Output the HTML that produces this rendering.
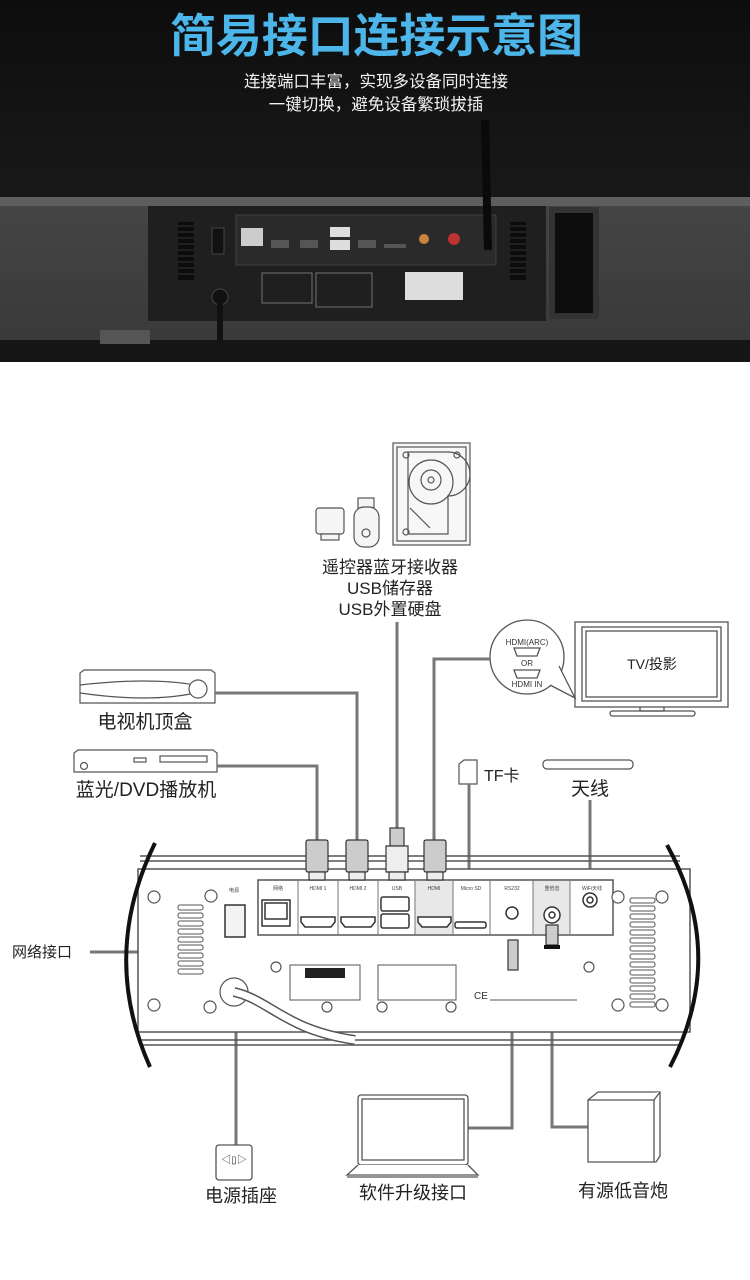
<!DOCTYPE html>
<html><head><meta charset="utf-8">
<style>
html,body{margin:0;padding:0;width:750px;height:1280px;overflow:hidden;background:#fff;}
svg{display:block;}
text{font-family:"Liberation Sans","Noto Sans CJK SC",sans-serif;}
</style></head><body>
<svg width="750" height="1280" viewBox="0 0 750 1280" xmlns="http://www.w3.org/2000/svg">
<defs>
<linearGradient id="bg" x1="0" y1="0" x2="0" y2="1">
<stop offset="0" stop-color="#0d0d0d"/><stop offset="0.5" stop-color="#181818"/><stop offset="1" stop-color="#101010"/>
</linearGradient>
<linearGradient id="bar" x1="0" y1="0" x2="0" y2="1">
<stop offset="0" stop-color="#4e4e4e"/><stop offset="0.1" stop-color="#444"/><stop offset="1" stop-color="#3a3a3a"/>
</linearGradient>
</defs>
<rect x="0" y="0" width="750" height="362" fill="url(#bg)"/>
<text x="170" y="52" font-size="46" font-weight="bold" fill="#4cb6ea" textLength="413" lengthAdjust="spacing">简易接口连接示意图</text>
<text x="376" y="87" text-anchor="middle" font-size="16.5" fill="#f2f2f2">连接端口丰富，实现多设备同时连接</text>
<text x="376" y="110" text-anchor="middle" font-size="16.5" fill="#f2f2f2">一键切换，避免设备繁琐拔插</text>
<rect x="0" y="197" width="750" height="143" fill="url(#bar)"/>
<rect x="0" y="197" width="750" height="9" fill="#5e5e5e"/>
<rect x="0" y="340" width="750" height="22" fill="#151515"/>
<rect x="100" y="330" width="50" height="14" fill="#555"/>
<rect x="148" y="206" width="398" height="115" fill="#1f1f1f"/>
<rect x="549" y="207" width="50" height="112" fill="#333"/>
<rect x="555" y="213" width="38" height="100" fill="#0d0d0d"/>
<rect x="236" y="215" width="260" height="50" fill="#2a2a2a" stroke="#555" stroke-width="0.6"/>
<g fill="#0c0c0c"><rect x="178" y="222" width="16" height="58"/><rect x="510" y="222" width="16" height="58"/></g>
<g stroke="#333" stroke-width="1"><line x1="178" y1="226" x2="194" y2="226"/><line x1="178" y1="232" x2="194" y2="232"/><line x1="178" y1="238" x2="194" y2="238"/><line x1="178" y1="244" x2="194" y2="244"/><line x1="178" y1="250" x2="194" y2="250"/><line x1="178" y1="256" x2="194" y2="256"/><line x1="178" y1="262" x2="194" y2="262"/><line x1="178" y1="268" x2="194" y2="268"/><line x1="178" y1="274" x2="194" y2="274"/>
<line x1="510" y1="226" x2="526" y2="226"/><line x1="510" y1="232" x2="526" y2="232"/><line x1="510" y1="238" x2="526" y2="238"/><line x1="510" y1="244" x2="526" y2="244"/><line x1="510" y1="250" x2="526" y2="250"/><line x1="510" y1="256" x2="526" y2="256"/><line x1="510" y1="262" x2="526" y2="262"/><line x1="510" y1="268" x2="526" y2="268"/><line x1="510" y1="274" x2="526" y2="274"/></g>
<rect x="212" y="228" width="12" height="26" fill="#111" stroke="#444"/>
<rect x="241" y="228" width="22" height="18" fill="#ccc"/>
<rect x="271" y="240" width="18" height="8" fill="#555"/><rect x="300" y="240" width="18" height="8" fill="#555"/>
<rect x="330" y="227" width="20" height="10" fill="#ddd"/><rect x="330" y="240" width="20" height="10" fill="#ddd"/>
<rect x="358" y="240" width="18" height="8" fill="#555"/>
<rect x="384" y="244" width="22" height="4" fill="#555"/>
<circle cx="424" cy="239" r="5" fill="#c8843a"/>
<circle cx="454" cy="239" r="6" fill="#b33"/>
<rect x="262" y="273" width="50" height="30" fill="none" stroke="#888" stroke-width="0.8"/>
<rect x="316" y="273" width="56" height="34" fill="none" stroke="#888" stroke-width="0.8"/>
<rect x="405" y="272" width="58" height="28" fill="#ddd"/>
<circle cx="220" cy="297" r="8" fill="#111" stroke="#444"/>
<rect x="217" y="297" width="6" height="45" fill="#111"/>
<polygon points="481,120 489,120 492,250 484,250" fill="#0a0a0a"/>
<g stroke="#555" fill="none" stroke-width="1.2">
<rect x="393" y="443" width="77" height="102" fill="#f7f7f7"/>
<rect x="397" y="447" width="69" height="94"/>
<path d="M408,452 h40 a22,22 0 0 1 0,44 v38 l-8,0 l-32,0 z"/>
<circle cx="431" cy="482" r="22"/><circle cx="431" cy="480" r="10"/><circle cx="431" cy="480" r="3"/>
<circle cx="406" cy="455" r="3"/><circle cx="457" cy="455" r="3"/><circle cx="406" cy="532" r="3"/>
<path d="M410,508 l20,20"/>
</g>
<g stroke="#555" fill="#f5f5f5" stroke-width="1.2">
<rect x="316" y="508" width="28" height="26" rx="3"/><rect x="321" y="534" width="18" height="6"/>
<rect x="358" y="498" width="16" height="10"/>
<rect x="354" y="507" width="25" height="40" rx="10"/><circle cx="366" cy="533" r="4"/>
</g>
<text x="390" y="573" text-anchor="middle" font-size="17" fill="#222">遥控器蓝牙接收器</text>
<text x="390" y="594" text-anchor="middle" font-size="17" fill="#222">USB储存器</text>
<text x="390" y="615" text-anchor="middle" font-size="17" fill="#222">USB外置硬盘</text>
<g stroke="#555" fill="none" stroke-width="1.3">
<rect x="575" y="622" width="153" height="85"/><rect x="582" y="627" width="139" height="74"/><rect x="586" y="631" width="131" height="66"/>
<path d="M640,707 v4 h24 v-4"/><rect x="610" y="711" width="85" height="5" rx="2.5"/>
<circle cx="527" cy="657" r="37" fill="#fff"/>
<path d="M550,685 l25,13 l-16,-32" fill="#fff"/>
<path d="M514,648 h26 l-3,8 h-20 z"/><path d="M514,670 h26 l-3,8 h-20 z"/>
</g>
<text x="527" y="645" text-anchor="middle" font-size="8" fill="#333">HDMI(ARC)</text>
<text x="527" y="666" text-anchor="middle" font-size="8" fill="#333">OR</text>
<text x="527" y="687" text-anchor="middle" font-size="8" fill="#333">HDMI IN</text>
<text x="652" y="669" text-anchor="middle" font-size="14" fill="#222">TV/投影</text>
<g stroke="#555" fill="#fff" stroke-width="1.2">
<path d="M80,703 v-30 l4,-3 h127 l4,3 v30 z"/>
<path d="M80,685 q70,-8 115,0 M80,693 q70,10 115,0"/>
<circle cx="198" cy="689" r="9"/>
<path d="M74,772 v-19 l4,-3 h135 l4,3 v19 z"/>
<circle cx="84" cy="766" r="3.5"/><rect x="160" y="756" width="47" height="6"/><rect x="134" y="758" width="12" height="4"/>
</g>
<text x="145" y="728" text-anchor="middle" font-size="19" fill="#222">电视机顶盒</text>
<text x="146" y="796" text-anchor="middle" font-size="19" fill="#222">蓝光/DVD播放机</text>
<path d="M459,784 v-20 l5,-4 h13 v24 z" fill="#fff" stroke="#555" stroke-width="1.2"/>
<text x="484" y="781" font-size="16" fill="#222">TF卡</text>
<rect x="543" y="760" width="90" height="9" rx="4" fill="#fff" stroke="#555" stroke-width="1.2"/>
<text x="590" y="795" text-anchor="middle" font-size="19" fill="#222">天线</text>
<g stroke="#777" stroke-width="3" fill="none">
<polyline points="215,693 357,693 357,840"/>
<polyline points="217,766 317,766 317,840"/>
<line x1="397" y1="622" x2="397" y2="830"/>
<polyline points="490,659 434,659 434,840"/>
<line x1="469" y1="784" x2="469" y2="888"/>
<line x1="590" y1="800" x2="590" y2="888"/>
<polyline points="90,952 276,952 276,930"/>
<polyline points="236,1145 236,992"/>
<polyline points="468,1128 512,1128 512,970"/>
<polyline points="588,1127 552,1127 552,955"/>
</g>
<text x="12" y="957" font-size="15" fill="#222">网络接口</text>
<g stroke="#555" fill="none" stroke-width="1.5">
<line x1="140" y1="856" x2="680" y2="856"/><line x1="140" y1="861" x2="680" y2="861"/>
<line x1="140" y1="1040" x2="680" y2="1040"/><line x1="140" y1="1045" x2="680" y2="1045"/>
<rect x="138" y="869" width="552" height="163" fill="#fff"/>
<rect x="258" y="880" width="355" height="55" fill="#fff"/>
</g>
<rect x="415" y="881" width="38" height="53" fill="#e8e8e8"/>
<rect x="533" y="881" width="37" height="53" fill="#e8e8e8"/>
<g stroke="#777" stroke-width="1"><line x1="298" y1="880" x2="298" y2="935"/><line x1="338" y1="880" x2="338" y2="935"/><line x1="378" y1="880" x2="378" y2="935"/><line x1="415" y1="880" x2="415" y2="935"/><line x1="453" y1="880" x2="453" y2="935"/><line x1="490" y1="880" x2="490" y2="935"/><line x1="533" y1="880" x2="533" y2="935"/><line x1="570" y1="880" x2="570" y2="935"/></g>
<path d="M155,843 Q100,955 150,1067" stroke="#111" stroke-width="4" fill="none"/>
<path d="M667,845 Q728,955 670,1067" stroke="#111" stroke-width="4" fill="none"/>
<g stroke="#333" fill="#fff" stroke-width="1.5">
<rect x="262" y="900" width="28" height="26"/><rect x="265" y="903" width="22" height="16"/>
<path d="M301,917 h34 v5 l-4,5 h-26 l-4,-5 z"/><path d="M341,917 h34 v5 l-4,5 h-26 l-4,-5 z"/>
<rect x="381" y="897" width="28" height="14" rx="2"/><rect x="381" y="914" width="28" height="14" rx="2"/>
<path d="M418,917 h33 v5 l-4,5 h-25 l-4,-5 z"/>
<rect x="455" y="922" width="31" height="6" rx="2"/>
<circle cx="512" cy="913" r="6"/><circle cx="552" cy="915" r="8"/><circle cx="552" cy="915" r="3"/>
<circle cx="590" cy="900" r="7"/><circle cx="590" cy="900" r="3"/>
<rect x="225" y="905" width="20" height="32" fill="#f3f3f3"/>
</g>
<g font-size="5" fill="#444" text-anchor="middle"><text x="234" y="892">电源</text><text x="278" y="890">网络</text><text x="318" y="890">HDMI 1</text><text x="358" y="890">HDMI 2</text><text x="397" y="890">USB</text><text x="434" y="890">HDMI</text><text x="471" y="890">Micro SD</text><text x="512" y="890">RS232</text><text x="552" y="890">重低音</text><text x="592" y="890">WiFi天线</text></g>
<g stroke="#333" stroke-width="1.2" fill="#ccc">
<rect x="306" y="840" width="22" height="32" rx="2"/><rect x="346" y="840" width="22" height="32" rx="2"/><rect x="424" y="840" width="22" height="32" rx="2"/>
<rect x="309" y="872" width="16" height="8" fill="#eee"/><rect x="349" y="872" width="16" height="8" fill="#eee"/><rect x="427" y="872" width="16" height="8" fill="#eee"/>
<rect x="390" y="828" width="14" height="18"/><rect x="386" y="846" width="22" height="26" fill="#eee"/><rect x="389" y="872" width="16" height="8" fill="#eee"/>
<rect x="508" y="940" width="10" height="30"/>
<rect x="546" y="925" width="12" height="20"/>
</g>
<rect x="544" y="945" width="16" height="4" fill="#111"/>
<g stroke="#555" fill="#fff" stroke-width="1.2">
<circle cx="154" cy="897" r="6"/><circle cx="154" cy="1005" r="6"/><circle cx="211" cy="896" r="6"/><circle cx="210" cy="1007" r="6"/>
<circle cx="276" cy="967" r="5"/><circle cx="327" cy="1007" r="5"/><circle cx="382" cy="1007" r="5"/><circle cx="451" cy="1007" r="5"/>
<circle cx="589" cy="967" r="5"/><circle cx="618" cy="897" r="6"/><circle cx="618" cy="1005" r="6"/><circle cx="662" cy="897" r="6"/><circle cx="662" cy="1005" r="6"/>
</g>
<g stroke="#555" fill="none" stroke-width="1">
<rect x="178" y="905" width="25" height="5" rx="2"/><rect x="178" y="913" width="25" height="5" rx="2"/><rect x="178" y="921" width="25" height="5" rx="2"/><rect x="178" y="929" width="25" height="5" rx="2"/><rect x="178" y="937" width="25" height="5" rx="2"/><rect x="178" y="945" width="25" height="5" rx="2"/><rect x="178" y="953" width="25" height="5" rx="2"/><rect x="178" y="961" width="25" height="5" rx="2"/><rect x="178" y="969" width="25" height="5" rx="2"/>
<rect x="630" y="898" width="25" height="5" rx="2"/><rect x="630" y="906" width="25" height="5" rx="2"/><rect x="630" y="914" width="25" height="5" rx="2"/><rect x="630" y="922" width="25" height="5" rx="2"/><rect x="630" y="930" width="25" height="5" rx="2"/><rect x="630" y="938" width="25" height="5" rx="2"/><rect x="630" y="946" width="25" height="5" rx="2"/><rect x="630" y="954" width="25" height="5" rx="2"/><rect x="630" y="962" width="25" height="5" rx="2"/><rect x="630" y="970" width="25" height="5" rx="2"/><rect x="630" y="978" width="25" height="5" rx="2"/><rect x="630" y="986" width="25" height="5" rx="2"/><rect x="630" y="994" width="25" height="5" rx="2"/><rect x="630" y="1002" width="25" height="5" rx="2"/>
<rect x="290" y="965" width="70" height="35"/><rect x="378" y="965" width="78" height="35"/>
<line x1="490" y1="1000" x2="577" y2="1000"/>
</g>
<rect x="305" y="968" width="40" height="10" fill="#222"/>
<text x="474" y="999" font-size="10" fill="#333">CE</text>
<circle cx="234" cy="992" r="14" fill="#fff" stroke="#555" stroke-width="1.2"/>
<path d="M234,992 C270,1000 285,1030 355,1040" stroke="#555" stroke-width="10" fill="none"/>
<path d="M234,992 C270,1000 285,1030 355,1040" stroke="#fff" stroke-width="7" fill="none"/>
<g stroke="#555" fill="#fff" stroke-width="1.3">
<rect x="216" y="1145" width="36" height="35" rx="3"/>
<rect x="358" y="1095" width="110" height="70" rx="3"/><rect x="362" y="1099" width="102" height="61"/>
<path d="M358,1165 l-11,10 h131 l-10,-10"/><line x1="347" y1="1177" x2="478" y2="1177"/>
<path d="M588,1100 l10,-8 h62 v64 l-4,6 h-68 z"/><path d="M588,1100 h66 l6,-8 M654,1100 v62"/>
</g>
<text x="234" y="1163" text-anchor="middle" font-size="10" fill="#333">◁▯▷</text>
<text x="241" y="1202" text-anchor="middle" font-size="18" fill="#222">电源插座</text>
<text x="413" y="1199" text-anchor="middle" font-size="18" fill="#222">软件升级接口</text>
<text x="623" y="1197" text-anchor="middle" font-size="18" fill="#222">有源低音炮</text>
</svg>
</body></html>
